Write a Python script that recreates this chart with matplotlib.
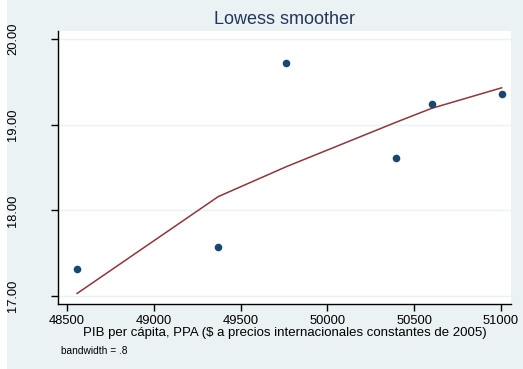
import matplotlib
matplotlib.use("Agg")
import matplotlib.pyplot as plt
from matplotlib.patches import Rectangle

# Data
gdp = [48558, 49371, 49764, 50398, 50600, 51004]
values = [17.315, 17.57, 19.72, 18.61, 19.24, 19.36]
lowess_fit = [17.03, 18.16, 18.51, 19.03, 19.19, 19.43]
xticks = [48500, 49000, 49500, 50000, 50500, 51000]
yticks = [17.0, 18.0, 19.0, 20.0]

plt.rcParams['font.family'] = ['Liberation Sans', 'DejaVu Sans']

W, H = 523, 369
fig = plt.figure(figsize=(W / 100, H / 100), dpi=100)
bg = '#EAF2F3'
fig.patch.set_facecolor(bg)
# white strip on the left edge
fig.patches.append(Rectangle((0, 0), 7 / W, 1, transform=fig.transFigure,
                             facecolor='white', edgecolor='none', zorder=-10))

L, R, T, B = 58, 511, 31, 304
ax = fig.add_axes([L / W, 1 - B / H, (R - L) / W, (B - T) / H])
ax.set_facecolor('white')

ax.scatter(gdp, values, s=30, color='#1a476f', zorder=3, linewidths=0)
ax.plot(gdp, lowess_fit, color='#90353b', lw=1.1, zorder=2)

ax.set_xlim(48448, 51058)
ax.set_ylim(16.907, 20.093)
ax.set_xticks(xticks)
ax.set_xticklabels([str(v) for v in xticks])
ax.set_yticks(yticks)
ax.set_yticklabels([f"{v:.2f}" for v in yticks], rotation=90, va='center')

ax.grid(axis='y', color='#EAF2F3', lw=1)
ax.set_axisbelow(True)
for s in ['top', 'right']:
    ax.spines[s].set_visible(False)
for s in ['left', 'bottom']:
    ax.spines[s].set_color('black')
    ax.spines[s].set_linewidth(1)

ax.tick_params(axis='x', length=5, width=1, labelsize=9.3, pad=3, colors='black')
ax.tick_params(axis='y', length=5, width=1, labelsize=9.3, pad=23, colors='black')

ax.set_xlabel("PIB per cápita, PPA ($ a precios internacionales constantes de 2005)",
              fontsize=9.5, labelpad=0)

fig.text(284.5 / W, 1 - 19 / H, "Lowess smoother", ha='center', va='center',
         fontsize=13, color='#24365a')
fig.text(61 / W, 1 - 351 / H, "bandwidth = .8", ha='left', va='center',
         fontsize=7.3, color='black')

fig.savefig('out.png', dpi=100, facecolor=fig.get_facecolor())
